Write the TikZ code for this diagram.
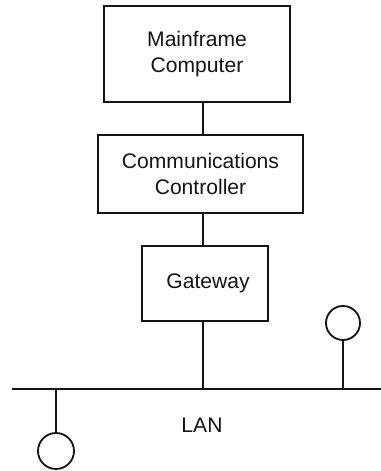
\documentclass[tikz,border=0pt]{standalone}
\usepackage{fontspec}
\setmainfont{Liberation Sans}
\usepackage{tikz}
\usetikzlibrary{calc}
\usepackage{xcolor}
\definecolor{inkblack}{RGB}{20,20,20}

\begin{document}
\begin{tikzpicture}[line width=1.3pt, inkblack,
    font=\fontsize{15}{18}\selectfont,
    unitbox/.style={draw, rectangle, align=center, inner sep=0pt},
    station/.style={draw, circle, inner sep=0pt, minimum size=#1}]
        \useasboundingbox (0,0) rectangle (9.525,11.775);
        % Boxes of the chain
        \node[unitbox, minimum width=4.65cm, minimum height=2.4cm]
          (mainframe) at (4.925,10.425) {Mainframe\\Computer};
        \node[unitbox, minimum width=5.125cm, minimum height=1.95cm]
          (commctl) at (5.0125,7.425) {Communications\\Controller};
        \node[unitbox, minimum width=3.15cm, minimum height=1.875cm]
          (gateway) at (5.125,4.6875) {\hspace{0.15cm}Gateway};
        % LAN bus
        \coordinate (spine) at (5.075,0);
        \coordinate (lanW) at (0.3,2.05);
        \coordinate (lanE) at (9.525,2.05);
        \draw (lanW) -- (lanE);
        \node (lan) at (5.05,1.15) {LAN};
        % Stations on the bus
        \node[station=0.85cm] (stE) at (8.575,3.7) {};
        \node[station=0.9cm] (stW) at (1.4,0.5) {};
        % Links
        \draw (mainframe.south -| spine) -- (commctl.north -| spine);
        \draw (commctl.south -| spine) -- (gateway.north -| spine);
        \draw (gateway.south -| spine) -- (spine |- lanW);
        \draw (stE.south) -- (stE |- lanW);
        \draw (stW.north) -- (stW |- lanW);
      \end{tikzpicture}
\end{document}
